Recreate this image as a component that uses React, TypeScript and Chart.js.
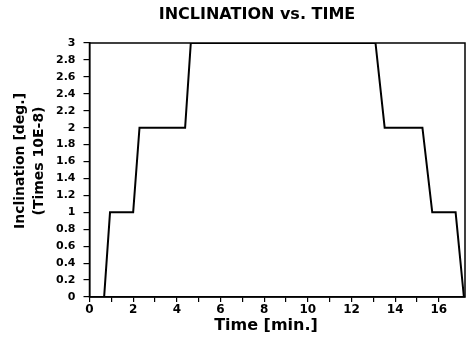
import React, { useEffect, useRef } from 'react';
import { Chart, registerables } from 'chart.js';

Chart.register(...registerables);

const chartTitle = 'INCLINATION vs. TIME';
const xAxisTitle = 'Time [min.]';
const yAxisTitle = ['Inclination [deg.]', '(Times 10E-8)'];

const timeMin = [0.67, 0.94, 2.0, 2.29, 4.38, 4.64, 13.1, 13.52, 15.25, 15.7, 16.77, 17.15];
const inclination = [0, 1, 1, 2, 2, 3, 3, 2, 2, 1, 1, 0];

const xTickValues = [0, 1, 2, 3, 4, 5, 6, 7, 8, 9, 10, 11, 12, 13, 14, 15, 16];
const xTickLabels = ['0', '', '2', '', '4', '', '6', '', '8', '', '10', '', '12', '', '14', '', '16'];
const xRange = [0, 17.2];
const yRange = [0, 3];
const yStep = 0.2;

const FONT = '"DejaVu Sans", sans-serif';

const framePlugin = {
  id: 'frameAndTitles',
  beforeDraw(chart: any) {
    const { ctx, width, height } = chart;
    ctx.save();
    ctx.fillStyle = '#fff';
    ctx.fillRect(0, 0, width, height);
    ctx.restore();
  },
  afterDraw(chart: any) {
    const { ctx, chartArea } = chart;
    const { left, top, right, bottom } = chartArea;
    ctx.save();
    ctx.strokeStyle = '#000';
    ctx.lineWidth = 1.5;
    ctx.strokeRect(left, top, right - left, bottom - top);
    ctx.fillStyle = '#000';
    ctx.textAlign = 'center';
    ctx.textBaseline = 'middle';
    ctx.font = `bold 16px ${FONT}`;
    ctx.fillText(chartTitle, 257, 15);
    ctx.font = `bold 16px ${FONT}`;
    ctx.fillText(xAxisTitle, 266, 326);
    ctx.font = `bold 14px ${FONT}`;
    ctx.translate(0, 161);
    ctx.rotate(-Math.PI / 2);
    ctx.fillText(yAxisTitle[0], 0, 20);
    ctx.fillText(yAxisTitle[1], 0, 39);
    ctx.restore();
  },
};

export default function App() {
  const ref = useRef<HTMLCanvasElement | null>(null);

  useEffect(() => {
    document.body.style.margin = '0';
    const canvas = ref.current;
    if (!canvas) return;
    const points = timeMin.map((t, i) => ({ x: t, y: inclination[i] }));
    const chart = new Chart(canvas, {
      type: 'line',
      data: {
        datasets: [
          {
            data: points,
            borderColor: '#000',
            borderWidth: 2,
            pointRadius: 0,
            tension: 0,
            fill: false,
          },
        ],
      },
      options: {
        responsive: false,
        animation: false,
        layout: { padding: { top: 43, left: 8, right: 3, bottom: 0 } },
        plugins: {
          legend: { display: false },
          title: { display: false },
          tooltip: { enabled: false },
        },
        scales: {
          x: {
            type: 'linear',
            min: xRange[0],
            max: xRange[1],
            afterBuildTicks(scale: any) {
              scale.ticks = xTickValues.map((v) => ({ value: v }));
            },
            afterFit(scale: any) {
              scale.height = 42;
            },
            border: { display: true, color: '#000', width: 1.5 },
            grid: { drawOnChartArea: false, drawTicks: true, tickLength: 5, color: '#000', lineWidth: 1.2 },
            ticks: {
              autoSkip: false,
              maxRotation: 0,
              padding: 1,
              color: '#000',
              font: { family: FONT, size: 12, weight: 'bold' },
              callback: (v: any) => {
                const i = xTickValues.indexOf(Number(v));
                return i >= 0 ? xTickLabels[i] : '';
              },
            },
            title: { display: false },
          },
          y: {
            type: 'linear',
            min: yRange[0],
            max: yRange[1],
            afterFit(scale: any) {
              scale.width = 81.5;
            },
            border: { display: true, color: '#000', width: 1.5 },
            grid: { drawOnChartArea: false, drawTicks: true, tickLength: 6, color: '#000', lineWidth: 1.2 },
            ticks: {
              stepSize: yStep,
              autoSkip: false,
              padding: 8,
              color: '#000',
              font: { family: FONT, size: 11, weight: 'bold' },
              callback: (v: any) => String(Math.round(Number(v) * 10) / 10),
            },
            title: { display: false },
          },
        },
      },
      plugins: [framePlugin],
    });
    return () => chart.destroy();
  }, []);

  return (
    <div style={{ width: 468, height: 339 }}>
      <canvas ref={ref} width={468} height={339} />
    </div>
  );
}
